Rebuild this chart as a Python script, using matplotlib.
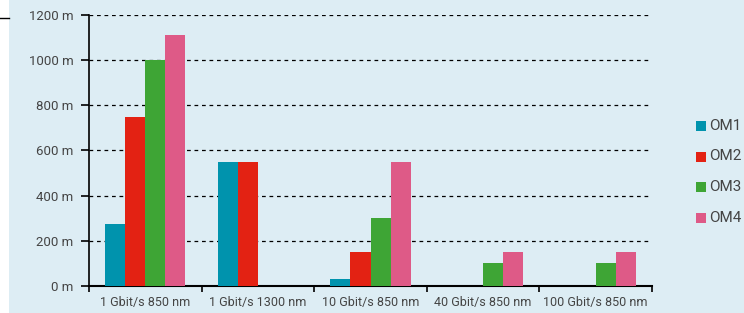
import numpy as np
import matplotlib.pyplot as plt
from matplotlib.patches import Rectangle
from matplotlib.lines import Line2D

# data
categories = ['1 Gbit/s 850 nm', '1 Gbit/s 1300 nm', '10 Gbit/s 850 nm',
              '40 Gbit/s 850 nm', '100 Gbit/s 850 nm']
om1 = [275, 550, 33, 0, 0]
om2 = [750, 550, 150, 0, 0]
om3 = [1000, 0, 300, 100, 100]
om4 = [1110, 0, 550, 150, 150]
series_names = ['OM1', 'OM2', 'OM3', 'OM4']
yticks = [0, 200, 400, 600, 800, 1000, 1200]

colors = ['#0093ad', '#e32213', '#3ea535', '#de5a87']
bg = '#ddedf4'
txt = '#444444'

plt.rcParams['font.family'] = ['Roboto', 'DejaVu Sans']
plt.rcParams['font.size'] = 9

W, H = 744, 313
fig = plt.figure(figsize=(W/100, H/100), dpi=100)
fig.patch.set_facecolor(bg)
# white strip at left edge with a short rule
fig.patches.append(Rectangle((0, 0), 9/W, 1, transform=fig.transFigure,
                             facecolor='white', edgecolor='none', zorder=0))
fig.lines.append(Line2D([0, 9/W], [1-18/H, 1-18/H], transform=fig.transFigure,
                        color='black', linewidth=1))

ax = fig.add_axes([89/W, 1-286/H, (652-89)/W, (286-15)/H])
ax.set_facecolor(bg)

x = np.arange(len(categories))
w = 0.178
for i, vals in enumerate([om1, om2, om3, om4]):
    ax.bar(x + (i - 1.5)*w, vals, width=w, color=colors[i], label=series_names[i], zorder=3)

ax.set_xlim(-0.5, len(categories) - 0.5)
ax.set_ylim(0, 1200)
ax.set_yticks(yticks)
ax.set_yticklabels(['%d m' % v for v in yticks], color=txt, fontsize=9.5)
ax.set_xticks(x)
ax.set_xticklabels(categories, color=txt)
ax.set_xticks(np.arange(-0.5, len(categories), 1), minor=True)
ax.tick_params(axis='x', which='major', length=0, pad=7)
ax.tick_params(axis='x', which='minor', length=4, width=1.2, direction='out', color='black')
ax.tick_params(axis='y', length=6, width=1.2, direction='out', color='black', pad=5)

for v in yticks[1:]:
    ax.axhline(v, color='black', linestyle=(0, (3, 3)), linewidth=0.9, zorder=1)

for s in ['top', 'right']:
    ax.spines[s].set_visible(False)
ax.spines['left'].set_linewidth(1.2)
ax.spines['bottom'].set_linewidth(1.5)

# legend, drawn by hand on the right
for i, name in enumerate(series_names):
    yc = 126 + i*30.5
    fig.patches.append(Rectangle((696/W, 1-(yc+5)/H), 10/W, 10/H, transform=fig.transFigure,
                                 facecolor=colors[i], edgecolor='none'))
    fig.text(709/W, 1-yc/H, name, color=txt, fontsize=11, ha='left', va='center')

plt.savefig('out.png', dpi=100, facecolor=bg)
